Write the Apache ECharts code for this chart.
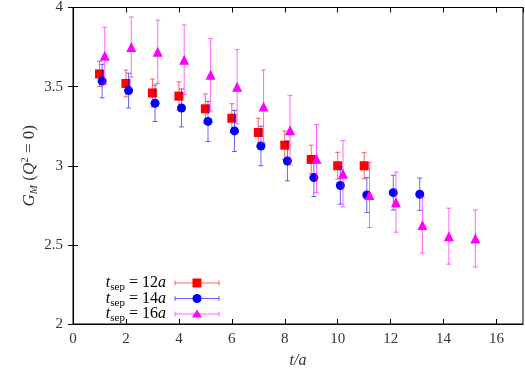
<!DOCTYPE html>
<html>
<head>
<meta charset="utf-8">
<script src="https://cdn.jsdelivr.net/npm/echarts@6/dist/echarts.min.js"></script>
<style>
html, body { margin: 0; padding: 0; background: #fff; }
#chart { width: 525px; height: 374px; }
</style>
</head>
<body>
<div id="chart"></div>
<script>
// t/a positions (each set shifted a little so the bars don't overlap)
var t12 = [1, 2, 3, 4, 5, 6, 7, 8, 9, 10, 11]
var t14 = [1.1, 2.1, 3.1, 4.1, 5.1, 6.1, 7.1, 8.1, 9.1, 10.1, 11.1, 12.1, 13.1]
var t16 = [1.2, 2.2, 3.2, 4.2, 5.2, 6.2, 7.2, 8.2, 9.2, 10.2, 11.2, 12.2, 13.2, 14.2, 15.2]

// G_M(Q^2=0) values and errors
var g12 = [3.58, 3.52, 3.46, 3.44, 3.36, 3.30, 3.21, 3.13, 3.04, 3.00, 3.00]
var e12 = [0.08, 0.085, 0.088, 0.09, 0.094, 0.092, 0.09, 0.09, 0.09, 0.085, 0.083]
var g14 = [3.535, 3.475, 3.395, 3.365, 3.28, 3.22, 3.125, 3.03, 2.925, 2.875, 2.815, 2.83, 2.82]
var e14 = [0.106, 0.11, 0.115, 0.12, 0.127, 0.13, 0.125, 0.126, 0.12, 0.118, 0.11, 0.11, 0.102]
var g16 = [3.695, 3.75, 3.72, 3.67, 3.575, 3.50, 3.375, 3.225, 3.045, 2.95, 2.815, 2.77, 2.625, 2.555, 2.54]
var e16 = [0.18, 0.19, 0.2, 0.22, 0.23, 0.235, 0.23, 0.22, 0.215, 0.21, 0.205, 0.19, 0.177, 0.177, 0.18]

var xTicks = [0, 2, 4, 6, 8, 10, 12, 14, 16]
var labels = ['12', '14', '16']

var font = 'Liberation Serif'
var txt = '#333'
var colors = ['#ff0000', '#0000ff', '#ff00ff']
var symbols = ['rect', 'circle', 'triangle']

function zip(t, g, e) {
    return t.map(function(v, i) { return [v, g[i], e[i]] })
}

function errRender(color) {
    return function(params, api) {
        var x = api.value(0), y = api.value(1), e = api.value(2)
        var top = api.coord([x, y + e])
        var bot = api.coord([x, y - e])
        var st = { stroke: color, lineWidth: 1, opacity: 0.6 }
        return {
            type: 'group',
            children: [
                { type: 'line', shape: { x1: top[0], y1: top[1], x2: bot[0], y2: bot[1] }, style: st },
                { type: 'line', shape: { x1: top[0] - 2.5, y1: top[1], x2: top[0] + 2.5, y2: top[1] }, style: st },
                { type: 'line', shape: { x1: bot[0] - 2.5, y1: bot[1], x2: bot[0] + 2.5, y2: bot[1] }, style: st }
            ]
        }
    }
}

var sets = [zip(t12, g12, e12), zip(t14, g14, e14), zip(t16, g16, e16)]

var series = []
sets.forEach(function(d, i) {
    series.push({
        type: 'custom',
        renderItem: errRender(colors[i]),
        data: d,
        z: 2 + i * 2
    })
    series.push({
        type: 'scatter',
        data: d,
        symbol: symbols[i],
        symbolSize: i == 2 ? 10 : 9,
        itemStyle: { color: colors[i], opacity: 1 },
        z: 3 + i * 2
    })
})

// legend drawn by hand: label + horizontal error bar + marker
var rich = {
    i: { fontFamily: font, fontStyle: 'italic', fontSize: 16, color: txt },
    s: { fontFamily: font, fontSize: 11, color: txt, padding: [9, 0, 0, 0] },
    n: { fontFamily: font, fontSize: 16, color: txt }
}
var legendGraphic = []
labels.forEach(function(l, i) {
    var y = 283 + i * 15.5
    var st = { stroke: colors[i], lineWidth: 1, opacity: 0.6 }
    legendGraphic.push({
        type: 'text', x: 166, y: y,
        style: { text: '{i|t}{s|sep}{n| = ' + l + '}{i|a}', rich: rich, align: 'right', verticalAlign: 'middle' }
    })
    legendGraphic.push({ type: 'line', shape: { x1: 175, y1: y, x2: 219, y2: y }, style: st })
    legendGraphic.push({ type: 'line', shape: { x1: 175, y1: y - 2.5, x2: 175, y2: y + 2.5 }, style: st })
    legendGraphic.push({ type: 'line', shape: { x1: 219, y1: y - 2.5, x2: 219, y2: y + 2.5 }, style: st })
    var shape
    if (i == 0) shape = { type: 'rect', shape: { x: 192.5, y: y - 4.5, width: 9, height: 9 }, style: { fill: colors[i] } }
    else if (i == 1) shape = { type: 'circle', shape: { cx: 197, cy: y, r: 4.5 }, style: { fill: colors[i] } }
    else shape = { type: 'polygon', shape: { points: [[197, y - 4.5], [192, y + 3.5], [202, y + 3.5]] }, style: { fill: colors[i] } }
    legendGraphic.push(shape)
})

var chart = echarts.init(document.getElementById('chart'))
var axisLine = { lineStyle: { color: '#000', width: 1 } }
var option = {
    animation: false,
    backgroundColor: '#fff',
    grid: { left: 73, right: 2, top: 7, bottom: 47, show: true, borderColor: '#000', borderWidth: 1 },
    xAxis: [
        {
            type: 'value', min: 0, max: 17, interval: 2,
            name: 't/a', nameLocation: 'middle', nameGap: 29, nameMoveOverlap: false,
            nameTextStyle: { fontFamily: font, fontStyle: 'italic', fontSize: 16, color: txt },
            axisLine: axisLine,
            axisTick: { inside: true, length: 5, lineStyle: { color: '#000' } },
            axisLabel: {
                fontFamily: font, fontSize: 15, color: txt, margin: 8, showMaxLabel: false,
                formatter: function(v) { return xTicks.indexOf(v) >= 0 ? String(v) : '' }
            },
            splitLine: { show: false }
        },
        {
            type: 'value', min: 0, max: 17, interval: 2, position: 'top',
            axisLine: axisLine,
            axisTick: { inside: true, length: 5, lineStyle: { color: '#000' } },
            axisLabel: { show: false },
            splitLine: { show: false }
        }
    ],
    yAxis: [
        {
            type: 'value', min: 2, max: 4, interval: 0.5,
            name: '{i|G}{s|M} {n|(}{i|Q}{p|2}{n| = 0)}', nameLocation: 'middle', nameGap: 33, nameRotate: 90,
            nameMoveOverlap: false,
            nameTextStyle: {
                rich: {
                    i: { fontFamily: font, fontStyle: 'italic', fontSize: 17, color: txt },
                    n: { fontFamily: font, fontSize: 17, color: txt },
                    s: { fontFamily: font, fontStyle: 'italic', fontSize: 11, color: txt, padding: [9, 0, 0, 0] },
                    p: { fontFamily: font, fontSize: 11, color: txt, padding: [0, 0, 9, 0] }
                },
                fontFamily: font, fontSize: 17, color: txt
            },
            axisLine: axisLine,
            axisTick: { inside: true, length: 5, lineStyle: { color: '#000' } },
            axisLabel: { fontFamily: font, fontSize: 15, color: txt, margin: 10 },
            splitLine: { show: false }
        },
        {
            type: 'value', min: 2, max: 4, interval: 0.5, position: 'right',
            axisLine: axisLine,
            axisTick: { inside: true, length: 5, lineStyle: { color: '#000' } },
            axisLabel: { show: false },
            splitLine: { show: false }
        }
    ],
    graphic: legendGraphic,
    series: series
}
chart.setOption(option)
</script>
</body>
</html>
